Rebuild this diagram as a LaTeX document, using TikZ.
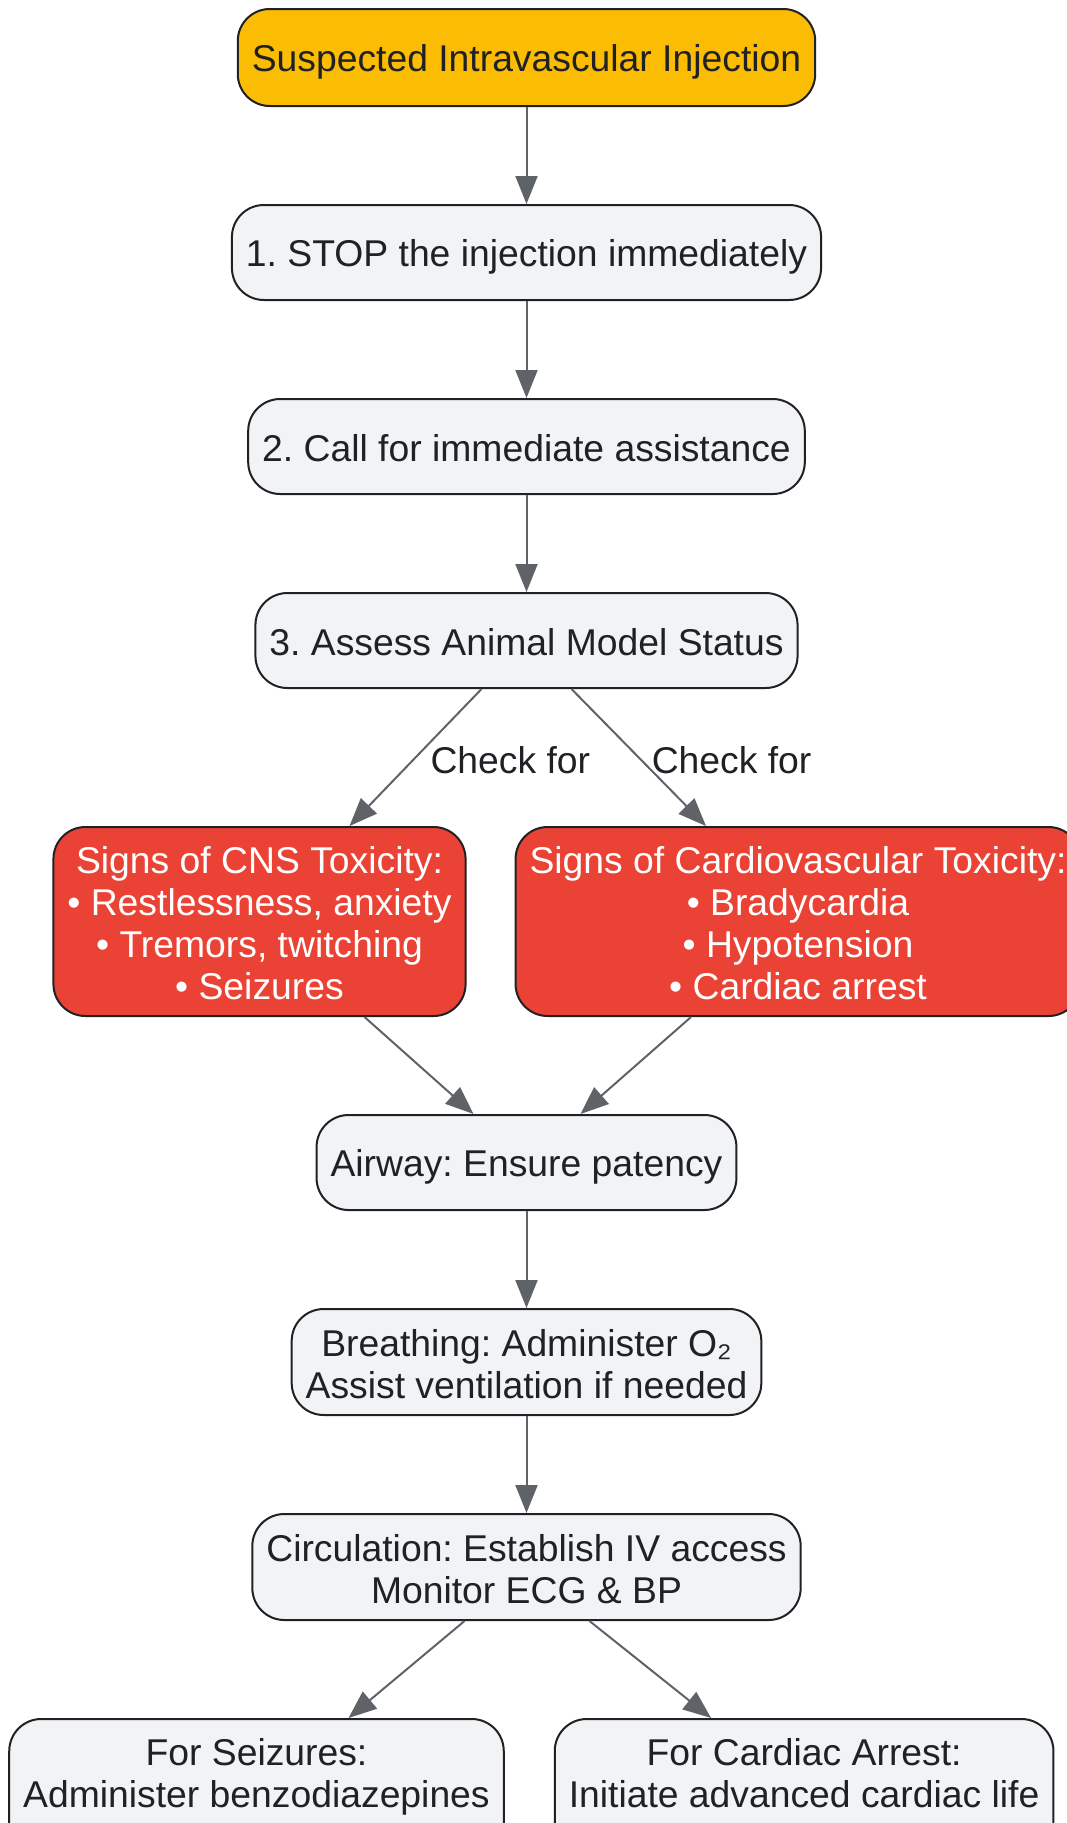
\documentclass[tikz,border=0pt]{standalone}
\usepackage{fontspec}
\setmainfont{Liberation Sans}
\frenchspacing
\usetikzlibrary{arrows.meta, positioning}

\definecolor{startfill}{HTML}{FBBC04}
\definecolor{stepfill}{HTML}{F1F3F4}
\definecolor{alertfill}{HTML}{EA4335}
\definecolor{boxline}{HTML}{202124}
\definecolor{arrowgray}{HTML}{5F6368}

% strut for one line of 42pt
\newcommand{\linestrut}{\vrule height 36.4pt depth 5.6pt width 0pt}

\begin{document}
\begin{tikzpicture}[
    node distance=97pt and 48pt, % same vertical gap between the steps
    font=\fontsize{37.3pt}{42pt}\selectfont,
    box/.style={
      rectangle,
      rounded corners=32pt,
      minimum height=95pt,
      inner xsep=14pt,
      inner ysep=10.5pt,
      fill=stepfill,
      draw=boxline,
      line width=2pt,
      text=boxline,
      align=center,
      execute at begin node=\linestrut,
      execute at end node=\linestrut
    },
    startbox/.style={
      box,
      fill=startfill,
      minimum height=97pt
    },
    twoline/.style={
      box,
      minimum height=106pt
    },
    alert/.style={
      box,
      fill=alertfill,
      text=white,
      minimum height=189pt
    },
    arrow/.style={
      -{Triangle[length=28pt, width=22pt]},
      draw=arrowgray,
      line width=2pt
    },
    check/.style={
      text=boxline,
      inner sep=2pt
    }
  ]

  % frame of the picture
  \useasboundingbox (0pt,0pt) rectangle (1067pt,-1823pt);

  % first steps - one column
  \node[startbox] (start) at (526.5pt,-57.5pt) {Suspected Intravascular Injection};
  \node[box, below=of start] (stop) {1. STOP the injection immediately};
  \node[box, below=of stop] (call) {2. Call for immediate assistance};
  \node[box, below=of call] (assess) {3. Assess Animal Model Status};

  % toxicity signs - two boxes side by side
  \node[alert, below=137pt of assess, xshift=-267pt] (cns) {\linestrut Signs of CNS Toxicity:\\
    • Restlessness, anxiety\\ • Tremors, twitching\\ • Seizures};
  \node[alert, right=of cns] (cardio) {\linestrut Signs of Cardiovascular Toxicity:\\
    • Bradycardia\\ • Hypotension\\ • Cardiac arrest};

  % ABC steps - back to the middle
  \coordinate (mid) at (assess |- cns.south);
  \node[box, below=of mid] (airway) {Airway: Ensure patency};
  \node[twoline, below=of airway] (breathing) {\linestrut Breathing: Administer O₂\\ Assist ventilation if needed};
  \node[twoline, below=of breathing] (circulation) {\linestrut Circulation: Establish IV access\\ Monitor ECG \& BP};

  % treatment - runs past the bottom edge
  \node[box, below=of circulation, xshift=-270pt] (seizures) {\linestrut For Seizures:\\ Administer benzodiazepines\\ \mbox{}};
  \node[box, right=49pt of seizures] (arrest) {\linestrut For Cardiac Arrest:\\ Initiate advanced cardiac life\\ \mbox{}};

  % arrows
  \draw[arrow] (start) -- (stop);
  \draw[arrow] (stop) -- (call);
  \draw[arrow] (call) -- (assess);
  \draw[arrow] ([xshift=-45pt]assess.south) -- node[check, pos=0.5, anchor=west, xshift=12pt, yshift=-3pt] {Check for} ([xshift=90pt]cns.north);
  \draw[arrow] ([xshift=45pt]assess.south) -- node[check, pos=0.5, anchor=west, xshift=10pt, yshift=-3pt] {Check for} ([xshift=-92pt]cardio.north);
  \draw[arrow] ([xshift=105pt]cns.south) -- ([xshift=-53pt]airway.north);
  \draw[arrow] ([xshift=-107pt]cardio.south) -- ([xshift=54pt]airway.north);
  \draw[arrow] (airway) -- (breathing);
  \draw[arrow] (breathing) -- (circulation);
  \draw[arrow] ([xshift=-62pt]circulation.south) -- ([xshift=92pt]seizures.north);
  \draw[arrow] ([xshift=63pt]circulation.south) -- ([xshift=-93pt]arrest.north);

\end{tikzpicture}
\end{document}
